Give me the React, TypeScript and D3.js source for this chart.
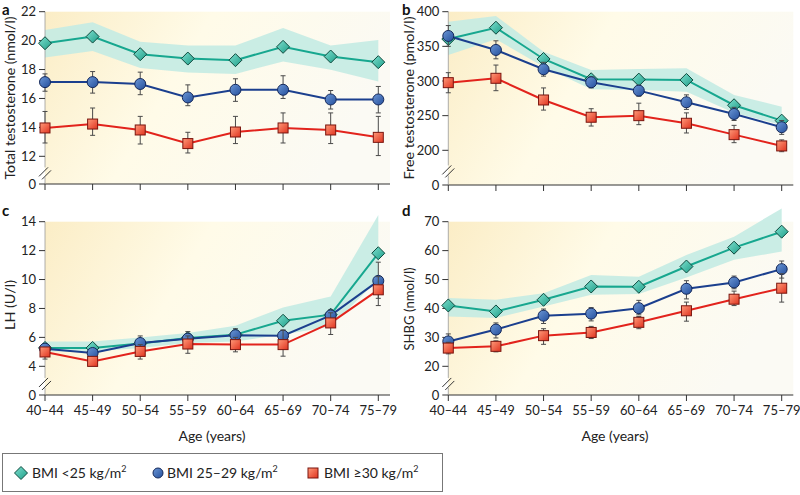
import React from "react";
import * as d3 from "d3";

const categories = ["40–44", "45–49", "50–54", "55–59", "60–64", "65–69", "70–74", "75–79"];

// Panel a: total testosterone (nmol/l)
const aLow = [19.82, 20.28, 19.06, 18.76, 18.65, 19.57, 18.9, 18.51];
const aLowUp = [20.74, 21.27, 19.93, 19.66, 19.66, 20.88, 19.66, 20.05];
const aLowLo = [18.83, 19.29, 18.1, 17.8, 17.7, 18.55, 17.98, 17.17];
const aMid = [17.13, 17.13, 17.0, 16.07, 16.6, 16.6, 15.93, 15.93];
const aMidUp = [17.7, 17.86, 17.82, 16.94, 17.36, 17.57, 16.55, 16.83];
const aMidLo = [16.5, 16.37, 16.26, 15.5, 15.8, 16.0, 15.27, 15.0];
const aHigh = [13.96, 14.23, 13.82, 12.88, 13.68, 13.96, 13.82, 13.31];
const aHighUp = [15.1, 15.34, 14.76, 13.66, 14.76, 15.0, 15.0, 14.76];
const aHighLo = [12.92, 13.45, 12.85, 12.23, 12.88, 12.92, 12.88, 12.05];
const aTicks = [0, 12, 14, 16, 18, 20, 22];

// Panel b: free testosterone (pmol/l)
const bLow = [360.6, 376.9, 331.8, 302.5, 302.0, 301.5, 265, 242.8];
const bLowUp = [385.6, 393.8, 342.3, 315.9, 317.4, 318.4, 279.9, 263];
const bLowLo = [337.5, 360.2, 320.7, 288.1, 287.1, 284.6, 254.3, 236.6];
const bMid = [365, 344.8, 316.9, 298.2, 286.1, 269.3, 252.4, 233.3];
const bMidUp = [380, 358, 327, 306, 294, 280, 262, 243];
const bMidLo = [350, 332, 307, 290, 278, 259, 243, 223];
const bHigh = [297.6, 303.9, 272.6, 247.7, 250, 239, 222.6, 206.3];
const bHighUp = [312, 323, 290, 260, 268, 254, 236, 215];
const bHighLo = [283, 286, 258, 235, 237, 225, 211, 192];
const bTicks = [0, 200, 250, 300, 350, 400];

// Panel c: LH (U/l)
const cLow = [5.27, 5.27, 5.57, 5.96, 6.19, 7.15, 7.57, 11.82];
const cLowUp = [5.72, 5.72, 6.0, 6.3, 6.81, 8.07, 8.83, 14.46];
const cLowLo = [5.03, 5.03, 5.27, 5.61, 5.72, 6.2, 6.76, 10.0];
const cMid = [5.22, 4.92, 5.61, 5.91, 6.15, 6.12, 7.52, 9.91];
const cMidUp = [5.5, 5.2, 6.1, 6.4, 6.6, 6.5, 7.9, 11.2];
const cMidLo = [4.9, 4.6, 5.2, 5.5, 5.7, 5.7, 7.1, 8.7];
const cHigh = [4.99, 4.34, 5.03, 5.54, 5.5, 5.5, 7.0, 9.29];
const cHighUp = [5.3, 4.5, 5.5, 6.1, 6.0, 6.5, 7.7, 10.2];
const cHighLo = [4.5, 4.2, 4.5, 4.9, 5.0, 4.7, 6.2, 8.2];
const cTicks = [0, 4, 6, 8, 10, 12, 14];

// Panel d: SHBG (nmol/l)
const dLow = [41.03, 38.97, 43.0, 47.6, 47.5, 54.5, 61.03, 66.55];
const dLowUp = [43.6, 43.0, 45.3, 51.6, 51.0, 58.5, 64.8, 74.6];
const dLowLo = [37.2, 36.7, 40.7, 44.7, 45.0, 50.7, 56.8, 59.7];
const dMid = [28.6, 32.7, 37.5, 38.2, 40.1, 46.8, 49.0, 53.6];
const dMidUp = [31.2, 35, 39.8, 40.3, 42.8, 49.6, 51.2, 56.4];
const dMidLo = [26.2, 29.8, 34.8, 35.7, 37.8, 43.3, 46.8, 50.5];
const dHigh = [26.3, 26.9, 30.6, 31.7, 35.2, 39.2, 43.2, 47.0];
const dHighUp = [28.3, 28.8, 33.0, 33.8, 37.2, 42.2, 46.0, 52.0];
const dHighLo = [24.3, 25.0, 27.6, 29.6, 33.0, 35.6, 41.0, 42.2];
const dTicks = [0, 20, 30, 40, 50, 60, 70];

const legendLabels = ["BMI <25 kg/m", "BMI 25–29 kg/m", "BMI ≥30 kg/m"];

const FONT = "Lato, 'Open Sans', sans-serif";
const TEAL = "#17a78f";
const BLUE = "#1b3f8e";
const RED = "#e2231c";

type PanelProps = {
  letter: string;
  title: string;
  titleLen: number;
  x0: number;
  x1: number;
  yTop: number;
  yZero: number;
  yLowPx: number;
  ticks: number[];
  low: number[];
  lowUp: number[];
  lowLo: number[];
  mid: number[];
  midUp: number[];
  midLo: number[];
  high: number[];
  highUp: number[];
  highLo: number[];
  showX: boolean;
  letterX: number;
  letterY: number;
  titleX: number;
  titleY: number;
};

function Diamond({ x, y, s = 6.5 }: { x: number; y: number; s?: number }) {
  return (
    <path
      d={`M${x},${y - s}L${x + s},${y}L${x},${y + s}L${x - s},${y}Z`}
      fill="url(#gTeal)"
      stroke="#0f4a3e"
      strokeWidth={1}
    />
  );
}
function Circle({ x, y, r = 5.5 }: { x: number; y: number; r?: number }) {
  return <circle cx={x} cy={y} r={r} fill="url(#gBlue)" stroke="#14285a" strokeWidth={1} />;
}
function Square({ x, y, s = 5 }: { x: number; y: number; s?: number }) {
  return (
    <rect x={x - s} y={y - s} width={2 * s} height={2 * s} fill="url(#gRed)" stroke="#7a150e" strokeWidth={1} />
  );
}

function Panel(p: PanelProps) {
  const top = p.ticks[p.ticks.length - 1];
  const lowTick = p.ticks[1];
  const y = d3.scaleLinear().domain([0, lowTick, top]).range([p.yZero, p.yLowPx, p.yTop]);
  const x = d3.scalePoint<string>().domain(categories).range([p.x0, p.x1]).padding(0);
  const axisRight = p.x0 + 345;
  const lineGen = d3
    .line<number>()
    .x((_, i) => x(categories[i]) as number)
    .y((d) => y(d));
  const area = d3
    .area<number>()
    .x((_, i) => x(categories[i]) as number)
    .y0((_, i) => y(p.lowLo[i]))
    .y1((_, i) => y(p.lowUp[i]));
  const breakY = p.yZero - (p.yZero - p.yLowPx) * 0.42;
  const err = (vals: number[], up: number[], lo: number[]) =>
    vals.map((_, i) => {
      const cx = x(categories[i]) as number;
      return (
        <g key={i} stroke="#4a4a4a" strokeWidth={1}>
          <line x1={cx} x2={cx} y1={y(up[i])} y2={y(lo[i])} />
          <line x1={cx - 2.5} x2={cx + 2.5} y1={y(up[i])} y2={y(up[i])} />
          <line x1={cx - 2.5} x2={cx + 2.5} y1={y(lo[i])} y2={y(lo[i])} />
        </g>
      );
    });
  return (
    <g fontFamily={FONT}>
      <rect x={p.x0} y={p.yTop} width={axisRight - p.x0} height={p.yZero - p.yTop} fill="url(#gBg)" />
      <path d={area(p.low) || ""} fill="#c4ebe3" opacity={0.9} />
      {/* axes */}
      <g stroke="#333" strokeWidth={1} fill="none">
        <line x1={p.x0} x2={axisRight} y1={p.yZero} y2={p.yZero} />
        <line x1={p.x0} x2={p.x0} y1={p.yTop} y2={breakY - 5} stroke="#999" strokeWidth={0.8} />
        <line x1={p.x0} x2={p.x0} y1={breakY + 5} y2={p.yZero} stroke="#999" strokeWidth={0.8} />
        {categories.map((c) => (
          <line key={c} x1={x(c)} x2={x(c)} y1={p.yZero} y2={p.yZero + 6} />
        ))}
        {p.ticks.map((t) => (
          <line key={t} x1={p.x0 - 6} x2={p.x0} y1={y(t)} y2={y(t)} />
        ))}
        <line x1={p.x0 - 6} y1={breakY + 4} x2={p.x0 + 3} y2={breakY - 5} />
        <line x1={p.x0 - 3} y1={breakY + 7} x2={p.x0 + 6} y2={breakY - 2} />
      </g>
      {p.ticks.map((t) => (
        <text key={t} x={p.x0 - 9} y={y(t)} dy="0.35em" textAnchor="end" fontSize={13} fill="#222">
          {t}
        </text>
      ))}
      {p.showX &&
        categories.map((c) => (
          <text key={c} x={x(c)} y={410} dy="0.35em" textAnchor="middle" fontSize={13} fill="#222">
            {c}
          </text>
        ))}
      <text x={p.letterX} y={p.letterY} fontSize={15} fontWeight="bold" fill="#111">
        {p.letter}
      </text>
      <text
        transform={`translate(${p.titleX},${p.titleY}) rotate(-90)`}
        textAnchor="middle"
        dy="0.35em"
        fontSize={14}
        fill="#222"
        textLength={p.titleLen}
        lengthAdjust="spacingAndGlyphs"
      >
        {p.title}
      </text>
      <path d={lineGen(p.low) || ""} fill="none" stroke={TEAL} strokeWidth={2} />
      <path d={lineGen(p.mid) || ""} fill="none" stroke={BLUE} strokeWidth={2} />
      <path d={lineGen(p.high) || ""} fill="none" stroke={RED} strokeWidth={2} />
      {p.low.map((v, i) => (
        <Diamond key={i} x={x(categories[i]) as number} y={y(v)} />
      ))}
      {err(p.mid, p.midUp, p.midLo)}
      {p.mid.map((v, i) => (
        <Circle key={i} x={x(categories[i]) as number} y={y(v)} />
      ))}
      {err(p.high, p.highUp, p.highLo)}
      {p.high.map((v, i) => (
        <Square key={i} x={x(categories[i]) as number} y={y(v)} />
      ))}
    </g>
  );
}

export default function App() {
  const W = 800;
  const H = 495;
  return (
    <svg
      width={W}
      height={H}
      style={{ position: "absolute", left: 0, top: 0, background: "#fff" }}
      fontFamily={FONT}
    >
      <defs>
        <linearGradient id="gBg" x1="0" y1="0" x2="1" y2="0.3">
          <stop offset="0%" stopColor="#fbedc6" />
          <stop offset="45%" stopColor="#fffbe8" />
          <stop offset="100%" stopColor="#fbfaf4" />
        </linearGradient>
        <linearGradient id="gTeal" x1="0" y1="0" x2="1" y2="1">
          <stop offset="0%" stopColor="#7fe0cf" />
          <stop offset="100%" stopColor="#1e9e88" />
        </linearGradient>
        <linearGradient id="gBlue" x1="0" y1="0" x2="1" y2="1">
          <stop offset="0%" stopColor="#6c97d6" />
          <stop offset="100%" stopColor="#244f9c" />
        </linearGradient>
        <linearGradient id="gRed" x1="0" y1="0" x2="1" y2="1">
          <stop offset="0%" stopColor="#ff9a7a" />
          <stop offset="100%" stopColor="#e0331f" />
        </linearGradient>
      </defs>
      <Panel
        letter="a"
        title="Total testosterone (nmol/l)"
        titleLen={163}
        x0={45}
        x1={378.3}
        yTop={11.7}
        yZero={184}
        yLowPx={156.3}
        ticks={aTicks}
        low={aLow}
        lowUp={aLowUp}
        lowLo={aLowLo}
        mid={aMid}
        midUp={aMidUp}
        midLo={aMidLo}
        high={aHigh}
        highUp={aHighUp}
        highLo={aHighLo}
        showX={false}
        letterX={2}
        letterY={15}
        titleX={10}
        titleY={98}
      />
      <Panel
        letter="b"
        title="Free testosterone (pmol/l)"
        titleLen={163}
        x0={448.3}
        x1={781.7}
        yTop={11.7}
        yZero={185}
        yLowPx={150.3}
        ticks={bTicks}
        low={bLow}
        lowUp={bLowUp}
        lowLo={bLowLo}
        mid={bMid}
        midUp={bMidUp}
        midLo={bMidLo}
        high={bHigh}
        highUp={bHighUp}
        highLo={bHighLo}
        showX={false}
        letterX={402}
        letterY={15}
        titleX={409}
        titleY={98}
      />
      <Panel
        letter="c"
        title="LH (U/l)"
        titleLen={50}
        x0={45}
        x1={378.3}
        yTop={221.7}
        yZero={395}
        yLowPx={366.3}
        ticks={cTicks}
        low={cLow}
        lowUp={cLowUp}
        lowLo={cLowLo}
        mid={cMid}
        midUp={cMidUp}
        midLo={cMidLo}
        high={cHigh}
        highUp={cHighUp}
        highLo={cHighLo}
        showX={true}
        letterX={2}
        letterY={216}
        titleX={10}
        titleY={305}
      />
      <Panel
        letter="d"
        title="SHBG (nmol/l)"
        titleLen={83}
        x0={448.3}
        x1={781.7}
        yTop={221.7}
        yZero={395}
        yLowPx={366.3}
        ticks={dTicks}
        low={dLow}
        lowUp={dLowUp}
        lowLo={dLowLo}
        mid={dMid}
        midUp={dMidUp}
        midLo={dMidLo}
        high={dHigh}
        highUp={dHighUp}
        highLo={dHighLo}
        showX={true}
        letterX={402}
        letterY={216}
        titleX={409}
        titleY={309}
      />
      <text x={212} y={436} dy="0.35em" textAnchor="middle" fontSize={14} fill="#222">
        Age (years)
      </text>
      <text x={615} y={436} dy="0.35em" textAnchor="middle" fontSize={14} fill="#222">
        Age (years)
      </text>
      <rect x={2.5} y={453.5} width={440} height={38} fill="#fff" stroke="#777" strokeWidth={1} />
      <Diamond x={21} y={473} s={6.5} />
      <Circle x={158} y={473} r={5} />
      <Square x={313} y={473} s={5} />
      {[32, 167, 324].map((lx, i) => (
        <text key={i} x={lx} y={473} dy="0.35em" fontSize={14} fill="#222">
          {legendLabels[i]}
          <tspan dy={-6} fontSize={9}>
            2
          </tspan>
        </text>
      ))}
    </svg>
  );
}
